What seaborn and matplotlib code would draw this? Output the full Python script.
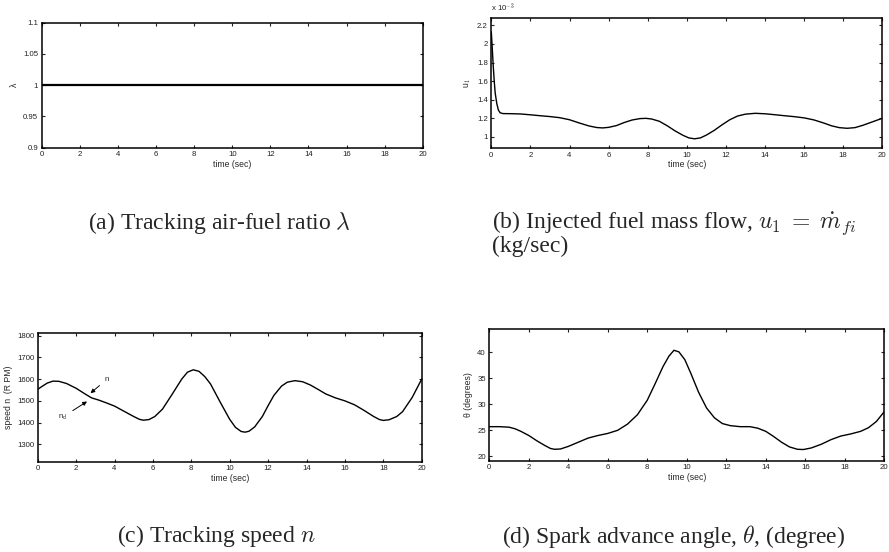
import pandas as pd
import seaborn as sns
import matplotlib.pyplot as plt
from matplotlib.ticker import FuncFormatter

# (a) air-fuel ratio lambda
t_lam = [0, 2, 4, 6, 8, 10, 12, 14, 16, 18, 20]
lam = [1.0, 1.0, 1.0, 1.0, 1.0, 1.0, 1.0, 1.0, 1.0, 1.0, 1.0]

# (b) injected fuel mass flow u1 (x 10^-3 kg/sec)
t_u1 = [0, 0.05, 0.1, 0.15, 0.2, 0.28, 0.36, 0.45, 0.6, 1, 1.5, 2, 2.5, 3, 3.5, 4, 4.5,
        5, 5.4, 5.7, 6.0, 6.4, 6.8, 7.2, 7.6, 7.9, 8.2, 8.6, 9.0, 9.4, 9.8, 10.1, 10.4,
        10.7, 11.0, 11.4, 11.8, 12.2, 12.6, 13.0, 13.5, 14.0, 14.5, 15, 15.5, 16, 16.5,
        17, 17.4, 17.8, 18.2, 18.6, 19.0, 19.4, 19.7, 20]
u1 = [2.13, 1.95, 1.76, 1.6, 1.47, 1.36, 1.29, 1.26, 1.251, 1.25, 1.247, 1.238, 1.228,
      1.219, 1.207, 1.185, 1.15, 1.118, 1.101, 1.097, 1.103, 1.122, 1.155, 1.182, 1.197,
      1.2, 1.193, 1.168, 1.12, 1.065, 1.018, 0.99, 0.98, 0.99, 1.02, 1.07, 1.13, 1.185,
      1.225, 1.245, 1.254, 1.249, 1.239, 1.228, 1.218, 1.205, 1.183, 1.15, 1.12, 1.1,
      1.093, 1.1, 1.125, 1.155, 1.178, 1.2]

# (c) engine speed n (RPM)
t_n = [0, 0.25, 0.5, 0.8, 1.1, 1.5, 2.0, 2.5, 2.8, 3.2, 3.6, 4.0, 4.5, 5.0, 5.3, 5.5,
       5.8, 6.1, 6.5, 7.0, 7.5, 7.8, 8.1, 8.4, 8.7, 9.0, 9.5, 10.0, 10.3, 10.6, 10.8,
       11.0, 11.3, 11.7, 12.0, 12.3, 12.7, 13.0, 13.4, 13.8, 14.2, 14.6, 15.0, 15.5,
       16.0, 16.5, 17.0, 17.5, 17.8, 18.0, 18.3, 18.7, 19.0, 19.5, 20.0]
speed = [1553, 1568, 1582, 1591, 1590, 1580, 1558, 1530, 1514, 1503, 1490, 1476, 1452,
         1428, 1415, 1411, 1414, 1428, 1462, 1530, 1600, 1632, 1643, 1636, 1612, 1578,
         1495, 1415, 1378, 1359, 1356, 1360, 1380, 1428, 1478, 1525, 1568, 1586, 1593,
         1588, 1573, 1553, 1532, 1514, 1500, 1482, 1456, 1428, 1414, 1410, 1413, 1428,
         1450, 1515, 1600]

# (d) spark advance angle theta (degrees)
t_th = [0, 0.5, 1.0, 1.3, 1.6, 2.0, 2.4, 2.8, 3.1, 3.3, 3.6, 4.0, 4.5, 5.0, 5.5, 6.0,
        6.5, 7.0, 7.5, 8.0, 8.4, 8.8, 9.1, 9.35, 9.6, 9.9, 10.2, 10.6, 11.0, 11.4, 11.8,
        12.2, 12.7, 13.2, 13.6, 14.0, 14.4, 14.8, 15.2, 15.6, 15.9, 16.3, 16.8, 17.3,
        17.8, 18.3, 18.8, 19.2, 19.6, 20]
theta = [25.7, 25.7, 25.6, 25.3, 24.8, 24.0, 23.0, 22.1, 21.5, 21.35, 21.4, 21.9, 22.7,
         23.5, 24.0, 24.4, 25.0, 26.2, 28.0, 30.8, 34.0, 37.3, 39.3, 40.4, 40.1, 38.6,
         36.0, 32.3, 29.3, 27.4, 26.3, 25.9, 25.7, 25.7, 25.4, 24.8, 23.8, 22.7, 21.8,
         21.35, 21.3, 21.6, 22.3, 23.2, 23.9, 24.3, 24.8, 25.5, 26.7, 28.6]

captions = ['(a) Tracking air-fuel ratio $\\lambda$',
            '(b) Injected fuel mass flow, $u_1\\;=\\;\\dot{m}_{fi}$',
            '(c) Tracking speed $n$',
            '(d) Spark advance angle, $\\theta$, (degree)']

sns.set_theme(style='ticks')
plt.rcParams['font.family'] = ['Liberation Sans', 'DejaVu Sans']
plt.rcParams['mathtext.fontset'] = 'cm'
plt.rcParams['axes.linewidth'] = 1.1
plt.rcParams['axes.edgecolor'] = 'black'

W, H = 889, 552
fig = plt.figure(figsize=(W / 100, H / 100), dpi=100)


def add_panel(left, right, top, bottom):
    ax = fig.add_axes([left / W, 1 - bottom / H, (right - left) / W, (bottom - top) / H])
    ax.tick_params(direction='in', top=True, right=True, length=2.5, width=0.8,
                   labelsize=5.6, pad=2.5, colors='#222222')
    ax.set_xlim(0, 20)
    ax.set_xticks(range(0, 21, 2))
    ax.xaxis.set_major_formatter(FuncFormatter(lambda v, p: '%g' % v))
    ax.yaxis.set_major_formatter(FuncFormatter(lambda v, p: '%g' % round(v, 4)))
    ax.set_xlabel('time (sec)', fontsize=6.2, labelpad=1.2)
    for s in ax.spines.values():
        s.set_color('black')
    return ax


# (a)
ax1 = add_panel(41.7, 422.7, 22.7, 147.7)
sns.lineplot(x=t_lam, y=lam, ax=ax1, color='black', linewidth=1.6)
ax1.set_ylim(0.9, 1.1)
ax1.set_yticks([0.9, 0.95, 1.0, 1.05, 1.1])
ax1.set_ylabel('λ', fontsize=6.2, labelpad=3)

# (b)
ax2 = add_panel(491.3, 882.3, 18.3, 148.3)
sns.lineplot(x=t_u1, y=u1, ax=ax2, color='black', linewidth=1.0)
ax2.set_ylim(0.878, 2.275)
ax2.set_yticks([1.0, 1.2, 1.4, 1.6, 1.8, 2.0, 2.2])
ax2.set_ylabel('u$_{\\mathsf{1}}$', fontsize=6.2, labelpad=3)
ax2.text(0, 1.035, 'x 10$^{\\mathsf{-3}}$', transform=ax2.transAxes, fontsize=5.6,
         ha='left', va='bottom', color='#222222')

# (c)
ax3 = add_panel(37.7, 421.7, 333.3, 461.7)
sns.lineplot(x=t_n, y=speed, ax=ax3, color='black', linewidth=1.0)
ax3.set_ylim(1220, 1811)
ax3.set_yticks([1300, 1400, 1500, 1600, 1700, 1800])
ax3.set_ylabel('speed n  (R PM)', fontsize=6.2, labelpad=3)
arrow = dict(arrowstyle='-|>', color='black', lw=0.7, mutation_scale=6)
ax3.annotate('n', xy=(2.64, 1527), xytext=(3.5, 1600), fontsize=5.8,
             ha='left', va='center', arrowprops=arrow)
ax3.annotate('n$_{\\mathsf{d}}$', xy=(2.69, 1504), xytext=(1.05, 1425), fontsize=5.8,
             ha='left', va='center', arrowprops=arrow)

# (d)
ax4 = add_panel(489.3, 884.3, 329, 460.7)
sns.lineplot(x=t_th, y=theta, ax=ax4, color='black', linewidth=1.0)
ax4.set_ylim(19.15, 44.5)
ax4.set_yticks([20, 25, 30, 35, 40])
ax4.set_ylabel('θ (degrees)', fontsize=6.2, labelpad=3)

# captions
cap = dict(fontsize=17, family=['Liberation Serif', 'DejaVu Serif'], ha='left', va='center')
fig.text(88 / W, 1 - 223 / H, captions[0], **cap)
fig.text(492 / W, 1 - 223 / H, captions[1], **cap)
fig.text(492 / W, 1 - 246 / H, '(kg/sec)', **cap)
fig.text(117 / W, 1 - 536 / H, captions[2], **cap)
fig.text(502 / W, 1 - 536 / H, captions[3], **cap)

fig.savefig('out.png', dpi=100)
